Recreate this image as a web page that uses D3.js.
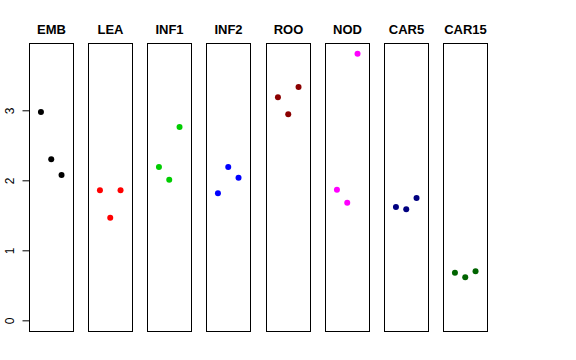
<!DOCTYPE html>
<html><head><meta charset="utf-8">
<script src="https://cdn.jsdelivr.net/npm/d3@7"></script>
<style>body{margin:0;background:#fff}svg{display:block}</style>
</head><body>
<script>
const categories = ["EMB","LEA","INF1","INF2","ROO","NOD","CAR5","CAR15"];
const colors = ["#000000","#FF0000","#00CD00","#0000FF","#8B0000","#FF00FF","#000080","#006400"];
const values = [
  [2.976, 2.300, 2.076],
  [1.857, 1.466, 1.857],
  [2.190, 2.009, 2.761],
  [1.814, 2.190, 2.037],
  [3.186, 2.943, 3.333],
  [1.866, 1.680, 3.809],
  [1.619, 1.586, 1.747],
  [0.680, 0.614, 0.700]
];
const yTicks = [0, 1, 2, 3];

const W = 576, H = 360;
const svg = d3.select("body").append("svg").attr("width", W).attr("height", H);

const panel = d3.scaleBand().domain(categories).range([29, 487.5]).paddingInner(0.248).paddingOuter(0);
const ymax = 3.809;
const y = d3.scaleLinear().domain([-0.04*ymax, ymax*1.04]).range([331, 43]);
const xIn = d3.scaleLinear().domain([-0.16, 4.16]).range([0, panel.bandwidth()]);

categories.forEach((c, i) => {
  const x0 = Math.round(panel(c));
  const bw = Math.round(panel.bandwidth());
  const g = svg.append("g").attr("transform", `translate(${x0},0)`);
  g.append("rect").attr("x", 0.5).attr("y", 43.5).attr("width", bw).attr("height", 288)
    .attr("fill", "none").attr("stroke", "#000").attr("stroke-width", 1);
  g.append("text").attr("x", bw/2 + 0.5).attr("y", 34).attr("text-anchor", "middle")
    .attr("font-family", "Liberation Sans, Arial, sans-serif").attr("font-weight", "bold")
    .attr("font-size", 13).text(c);
  g.selectAll("circle").data(values[i]).enter().append("circle")
    .attr("cx", (d, j) => xIn(j + 1)).attr("cy", d => y(d)).attr("r", 3)
    .attr("fill", colors[i]);
});

const axis = d3.axisLeft(y).tickValues(yTicks).tickSize(7).tickPadding(4).tickFormat(d3.format("d"));
const ax = svg.append("g").attr("transform", "translate(29.5,0)").call(axis);
ax.select(".domain").remove();
ax.selectAll(".tick line").attr("stroke", "#000");
ax.selectAll(".tick text")
  .attr("font-family", "Liberation Sans, Arial, sans-serif").attr("font-size", 12).attr("fill", "#000")
  .attr("transform", "rotate(-90)").attr("x", 0).attr("y", -16).attr("dy", 0)
  .attr("text-anchor", "middle");
</script>
</body></html>
